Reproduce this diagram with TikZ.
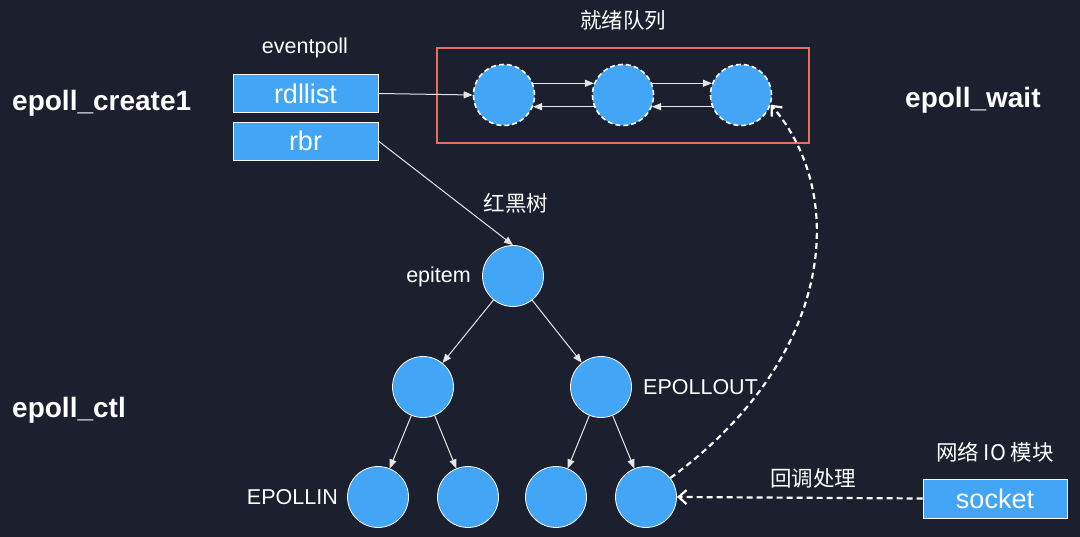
\documentclass[tikz,border=0pt]{standalone}
\usepackage{fontspec}
\setmainfont{Liberation Sans}
\newfontfamily\cjk{Noto Sans CJK SC}
\usetikzlibrary{arrows.meta}
\definecolor{bg}{HTML}{1C1F2E}
\definecolor{nodeblue}{HTML}{42A5F5}
\definecolor{qred}{HTML}{E5705E}
\definecolor{lineclr}{HTML}{E6E6E6}
\begin{document}
\begin{tikzpicture}[x=1pt,y=-1pt,
  box/.style={draw=white, line width=0.8pt, fill=nodeblue, minimum width=145pt, minimum height=38pt, inner sep=0pt, text=white, font=\fontsize{27}{30}\selectfont},
  circ/.style={circle, draw=white, line width=0.8pt, fill=nodeblue, minimum size=61pt, inner sep=0pt},
  qcirc/.style={circle, draw=white, fill=nodeblue, minimum size=61pt, inner sep=0pt, line width=1.6pt, dash pattern=on 5pt off 3pt},
  lbl/.style={text=white, font=\fontsize{21.5}{24}\selectfont, inner sep=0pt},
  clbl/.style={text=white, font=\cjk\fontsize{21.5}{24}\selectfont, inner sep=0pt},
  big/.style={text=white, font=\bfseries\fontsize{28}{31}\selectfont, inner sep=0pt},
  arr/.style={draw=lineclr, line width=1pt, -{Triangle[length=9pt,width=7pt]}},
  dsh/.style={draw=white, line width=2.2pt, dash pattern=on 6pt off 4pt, -{Straight Barb[length=8pt,width=14pt,line width=2.2pt]}}
]
\fill[bg] (0,0) rectangle (1080,537);
\useasboundingbox (0,0) rectangle (1080,537);

% titles
\node[big, anchor=west] (create) at (12,103) {epoll\_create1};
\node[big, anchor=west] (ctl) at (12,410) {epoll\_ctl};
\node[big, anchor=west] (wait) at (905,100) {epoll\_wait};

% eventpoll
\node[lbl] (evp) at (305,48) {eventpoll};
\node[box] (rdl) at (305.5,93.5) {rdllist};
\node[box] (rbr) at (305.5,141) {rbr};

% ready queue
\node[clbl] (jx) at (623,20) {就绪队列};
\node[draw=qred, line width=2pt, minimum width=372pt, minimum height=95pt, inner sep=0pt] (qbox) at (623,95.5) {};
\node[qcirc] (q1) at (504,95) {};
\node[qcirc] (q2) at (623,95) {};
\node[qcirc] (q3) at (741,95) {};

\draw[arr] (rdl.east) -- (q1.west);
\draw[arr] (q1.22) -- (q2.158);
\draw[arr] (q2.202) -- (q1.338);
\draw[arr] (q2.22) -- (q3.158);
\draw[arr] (q3.202) -- (q2.338);

% tree
\node[clbl] (hhs) at (516,203) {红黑树};
\node[circ] (ep) at (513,276) {};
\node[lbl, anchor=east] (epl) at (471,277) {epitem};
\node[circ] (a) at (423,387) {};
\node[circ] (b) at (601,387) {};
\node[lbl, anchor=west] (outl) at (643,387) {EPOLLOUT};
\node[circ] (c) at (378,497) {};
\node[circ] (d) at (468,497) {};
\node[circ] (e) at (556,497) {};
\node[circ] (f) at (646,497) {};
\node[lbl, anchor=east] (inl) at (338,497) {EPOLLIN};

\draw[arr] (rbr.east) -- (ep.north);
\draw[arr] (ep) -- (a);
\draw[arr] (ep) -- (b);
\draw[arr] (a) -- (c);
\draw[arr] (a) -- (d);
\draw[arr] (b) -- (e);
\draw[arr] (b) -- (f);

% socket
\node[clbl] (net) at (995,452) {网络 IO 模块};
\node[box, minimum width=144pt, minimum height=39pt] (sock) at (995,498.5) {socket};
\node[clbl] (cb) at (813,478) {回调处理};

\draw[dsh] (sock.west) -- (f.east);
\draw[dsh] (f.38) .. controls (832,360) and (850,197) .. (q3.-18);
\end{tikzpicture}
\end{document}
